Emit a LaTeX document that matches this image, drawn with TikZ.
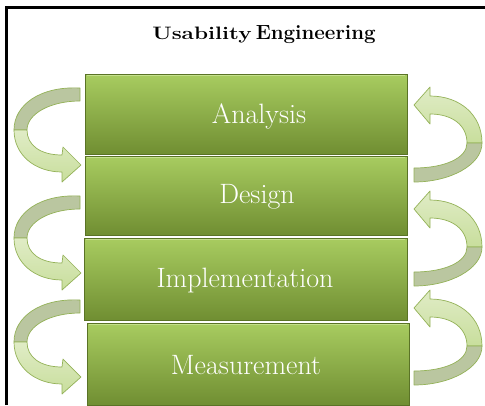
\documentclass[tikz,border=0pt]{standalone}
\usepackage{tikz}
\definecolor{boxtop}{RGB}{168,204,96}
\definecolor{boxbot}{RGB}{112,142,50}
\definecolor{boxline}{RGB}{90,115,38}
\definecolor{boxhi}{RGB}{196,224,140}
\definecolor{arrlight}{RGB}{224,236,198}
\definecolor{arrlightb}{RGB}{200,222,156}
\definecolor{arrdark}{RGB}{186,198,160}
\definecolor{arrline}{RGB}{148,178,88}
\tikzset{
  stage/.style={minimum width=322pt, minimum height=80pt, inner sep=0pt, outer sep=0pt,
    top color=boxtop, bottom color=boxbot, draw=boxline, line width=0.7pt},
  stagetext/.style={text=white, font=\fontsize{28}{31}\selectfont, inner sep=0pt},
  bevel/.style={boxhi, line width=1.2pt},
  lightface/.style={top color=arrlight, bottom color=arrlightb, draw=arrline, line width=0.7pt, line join=round},
  darkface/.style={fill=arrdark, draw=arrline, line width=0.7pt, line join=round},
  frame/.style={line width=2.5pt, black}
}
\begin{document}
\begin{tikzpicture}[x=1pt,y=-1pt]
\useasboundingbox (0,0) rectangle (485,405);
\fill[white] (0,0) rectangle (485,405);
% frame
\coordinate (fa) at (6.5,405);
\coordinate (fb) at (6.5,7.5);
\coordinate (fc) at (485,7.5);
\draw[frame] (fa) -- (fb) -- (fc);
% title
\node[inner sep=0pt, anchor=base] (title) at (264,39) {\bfseries\scalebox{1.25}[1]{\fontsize{18}{20}\selectfont Usability}\hspace{4pt}{\fontsize{20.5}{23}\selectfont Engineering}};
% left arrows (downward)
\foreach \dy in {0,108,212}{
 \begin{scope}[shift={(0,\dy)}]
  \path[darkface] (80,88) .. controls (40,86) and (14,105) .. (14,130)
     -- (27,130) .. controls (27,114) and (50,101) .. (80,101) -- cycle;
  \path[lightface] (14,130) .. controls (14,155) and (35,172) .. (62,172)
     -- (62,182) -- (81,165) -- (63,147) -- (62,155)
     .. controls (40,155) and (27,145) .. (27,130) -- cycle;
 \end{scope}
}
% right arrows (upward)
\foreach \dy in {0,104,203}{
 \begin{scope}[shift={(0,\dy)}]
  \path[lightface] (482,143) .. controls (482,115) and (460,96) .. (430,96)
     -- (430,87) -- (414,105) -- (430,124) -- (430,114)
     .. controls (452,114) and (467,125) .. (467,143) -- cycle;
  \path[darkface] (482,143) .. controls (482,165) and (450,182) .. (414,182)
     -- (414,168) .. controls (445,168) and (467,158) .. (467,143) -- cycle;
 \end{scope}
}
% stages
\node[stage] (ana) at (246,114) {};
\node[stage, minimum height=79pt] (des) at (246,195.5) {};
\node[stage, minimum height=82pt, minimum width=323pt] (imp) at (245.5,279) {};
\node[stage, minimum height=82pt] (mea) at (248,364) {};
\foreach \b in {ana,des,imp,mea}{
  \draw[bevel] ([shift={(2,1.5)}]\b.north west) -- ([shift={(-2,1.5)}]\b.north east);
}
\node[stagetext] (tana) at (259,116) {Analysis};
\node[stagetext] (tdes) at (257,197) {Design};
\node[stagetext] (timp) at (245,281) {Implementation};
\node[stagetext] (tmea) at (246,365) {Measurement};
\end{tikzpicture}
\end{document}
